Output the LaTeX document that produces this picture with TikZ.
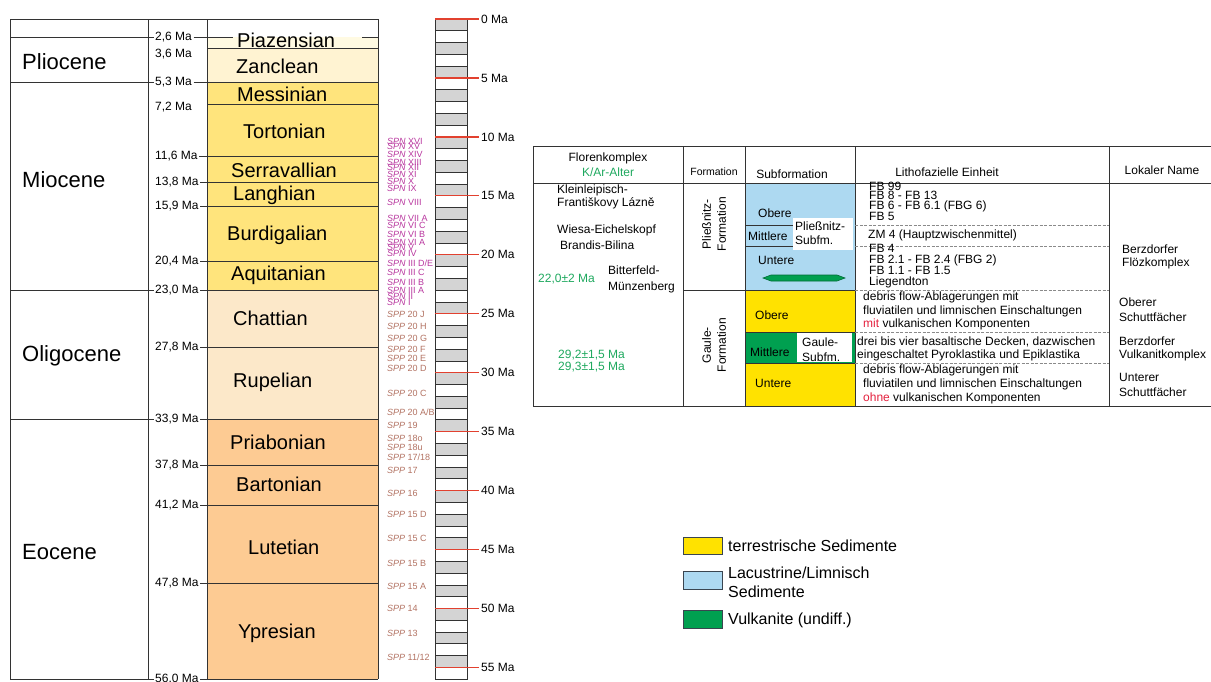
\documentclass[tikz,border=0pt]{standalone}
\usepackage{fontspec}
\setmainfont{Liberation Sans}
\usetikzlibrary{positioning, calc}

\definecolor{piazcol}{HTML}{FFFAE2}
\definecolor{zanclcol}{HTML}{FFF3D2}
\definecolor{miocol}{HTML}{FFE47C}
\definecolor{oligcol}{HTML}{FCE8C9}
\definecolor{eoccol}{HTML}{FDCB93}
\definecolor{spncol}{HTML}{B8369E}
\definecolor{sppcol}{HTML}{B27262}
\definecolor{tickred}{HTML}{E2412F}
\definecolor{cellgrey}{HTML}{D4D4D4}
\definecolor{linegrey}{HTML}{333333}
\definecolor{dashgrey}{HTML}{8A8A8A}
\definecolor{lakeblue}{HTML}{ADD9F1}
\definecolor{terryellow}{HTML}{FFE200}
\definecolor{volcgreen}{HTML}{00A050}
\definecolor{volcdark}{HTML}{006B35}
\definecolor{agegreen}{HTML}{1EA85E}
\definecolor{hlred}{HTML}{E4213E}
\definecolor{legframe}{HTML}{3A4550}

\begin{document}
\begin{tikzpicture}[x=1pt, y=-1pt,
	gridline/.style={draw=linegrey, line width=0.8pt},
	epochlbl/.style={anchor=west, inner sep=0pt, font=\fontsize{22}{26}\selectfont},
	stagelbl/.style={anchor=west, inner sep=0pt, font=\fontsize{20}{24}\selectfont},
	datelbl/.style={anchor=west, inner sep=1.5pt, font=\fontsize{12}{14}\selectfont},
	spnlbl/.style={anchor=west, inner sep=0pt, text=spncol, font=\fontsize{9}{10}\selectfont},
	spplbl/.style={spnlbl, text=sppcol},
	malbl/.style={anchor=west, inner sep=2pt, font=\fontsize{12}{14}\selectfont},
	hdr/.style={align=center, inner sep=0pt, font=\fontsize{12}{15}\selectfont},
	tcell/.style={anchor=west, align=left, inner sep=0pt, font=\fontsize{12}{13}\selectfont},
	rowsep/.style={draw=dashgrey, line width=0.6pt, dash pattern=on 3pt off 1.5pt},
	legbox/.style={draw=legframe, line width=1pt},
	legtxt/.style={anchor=west, align=left, inner sep=0pt, font=\fontsize{16}{19}\selectfont}]
	
	\useasboundingbox (0,0) rectangle (1211,681);
	
	% Stage fills
	\fill[piazcol] (207,37) rectangle (378,48);
	\fill[zanclcol] (207,48) rectangle (378,82);
	\fill[miocol] (207,82) rectangle (378,290);
	\fill[oligcol] (207,290) rectangle (378,419);
	\fill[eoccol] (207,419) rectangle (378,679);
	
	% Frame of the left chart
	\draw[gridline] (10,19) rectangle (148,679);
	\draw[gridline] (148,19) -- (378,19);
	\draw[gridline] (207,19) -- (207,679);
	\draw[gridline] (378,19) -- (378,679);
	
	% Epochs
	\node[epochlbl] (plio) at (22,62) {Pliocene};
	\node[epochlbl] (mio) at (22,180) {Miocene};
	\node[epochlbl] (oligo) at (22,356) {Oligocene};
	\node[epochlbl] (eo) at (22,552) {Eocene};
	
	% Epoch boundaries
	\node[datelbl] (d26) at (153.5,37) {2,6 Ma};
	\draw[gridline] (10,37) -- (d26.west);
	\draw[gridline] (d26.east) -- (233,37);
	\draw[gridline] (362,37) -- (378,37);
	\node[datelbl] (d53) at (153.5,82) {5,3 Ma};
	\draw[gridline] (10,82) -- (d53.west);
	\draw[gridline] (d53.east) -- (378,82);
	\node[datelbl] (d230) at (153.5,290) {23,0 Ma};
	\draw[gridline] (10,290) -- (d230.west);
	\draw[gridline] (d230.east) -- (378,290);
	\node[datelbl] (d339) at (153.5,419) {33,9 Ma};
	\draw[gridline] (10,419) -- (d339.west);
	\draw[gridline] (d339.east) -- (378,419);
	\node[datelbl] (d560) at (153.5,679) {56,0 Ma};
	\draw[gridline] (10,679) -- (d560.west);
	\draw[gridline] (d560.east) -- (378,679);
	
	% Stage boundaries
	\node[datelbl] (d36) at (153.5,54) {3,6 Ma};
	\draw[gridline] (207,48) -- (378,48);
	\node[datelbl] (d72) at (153.5,107) {7,2 Ma};
	\draw[gridline] (207,104) -- (378,104);
	\node[datelbl] (d116) at (153.5,156) {11,6 Ma};
	\draw[gridline] (d116.east) -- (378,156);
	\node[datelbl] (d138) at (153.5,182) {13,8 Ma};
	\draw[gridline] (d138.east) -- (378,182);
	\node[datelbl] (d159) at (153.5,206) {15,9 Ma};
	\draw[gridline] (d159.east) -- (378,206);
	\node[datelbl] (d204) at (153.5,261) {20,4 Ma};
	\draw[gridline] (d204.east) -- (378,261);
	\node[datelbl] (d278) at (153.5,347) {27,8 Ma};
	\draw[gridline] (d278.east) -- (378,347);
	\node[datelbl] (d378) at (153.5,465) {37,8 Ma};
	\draw[gridline] (d378.east) -- (378,465);
	\node[datelbl] (d412) at (153.5,505) {41,2 Ma};
	\draw[gridline] (d412.east) -- (378,505);
	\node[datelbl] (d478) at (153.5,583) {47,8 Ma};
	\draw[gridline] (d478.east) -- (378,583);
	
	% Stages
	\node[stagelbl] (piaz) at (237,40) {Piazensian};
	\node[stagelbl] (zancl) at (236,66) {Zanclean};
	\node[stagelbl] (messin) at (237,94) {Messinian};
	\node[stagelbl] (torton) at (243,131) {Tortonian};
	\node[stagelbl] (serra) at (231,170) {Serravallian};
	\node[stagelbl] (langh) at (233,195) {Langhian};
	\node[stagelbl] (burdi) at (227,235) {Burdigalian};
	\node[stagelbl] (aquit) at (231,275) {Aquitanian};
	\node[stagelbl] (chatt) at (233,318) {Chattian};
	\node[stagelbl] (rupel) at (233,382) {Rupelian};
	\node[stagelbl] (priab) at (230,442) {Priabonian};
	\node[stagelbl] (barton) at (236,484) {Bartonian};
	\node[stagelbl] (lutet) at (248,547) {Lutetian};
	\node[stagelbl] (ypres) at (238,633) {Ypresian};
	
	% Nannoplankton zones
	\foreach \y/\z [count=\k] in {141.7/XVI, 146.7/XV, 154.3/XIV, 162/XIII, 167.3/XII, 174/XI, 181/X, 188/IX,
		202.7/VIII, 218/{VII A}, 225/{VI C}, 234/{VI B}, 242/{VI A}, 247.5/V, 253/IV, 263/{III D/E},
		272/{III C}, 282/{III B}, 290/{III A}, 296/II, 302/I}
		\node[spnlbl] (spn\k) at (387,\y) {\textit{SPN} \z};
	\foreach \y/\z [count=\k] in {314/{20 J}, 326/{20 H}, 338/{20 G}, 349/{20 F}, 358/{20 E}, 368/{20 D},
		393/{20 C}, 412/{20 A/B}, 425/19, 438/18o, 447/18u, 457/{17/18}, 470/17, 493/16, 514/{15 D},
		538/{15 C}, 563/{15 B}, 586/{15 A}, 608/14, 633/13, 657/{11/12}}
		\node[spplbl] (spp\k) at (387,\y) {\textit{SPP} \z};
	
	% Time scale
	\foreach \i in {0,...,55}{
		\pgfmathtruncatemacro{\odd}{mod(\i,2)}
		\ifnum\odd=0 \def\cellfill{cellgrey}\else\def\cellfill{white}\fi
		\draw[gridline, fill=\cellfill] (435,{19+\i*11.79}) rectangle (467,{19+(\i+1)*11.79});
	}
	\foreach \m in {0,5,...,55}{
		\node[malbl] (ma\m) at (479,{19+\m*11.79}) {\m~Ma};
		\draw[tickred, line width=1.2pt] (435,{19+\m*11.79}) -- (ma\m.west);
	}
	
	% Table fills
	\fill[lakeblue] (745,183) rectangle (855,290);
	\fill[white] (793,218) rectangle (853,250);
	\fill[terryellow] (745,290) rectangle (855,332);
	\fill[volcgreen] (745,332) rectangle (855,363);
	\fill[white] (797,333) rectangle (852,362);
	\fill[terryellow] (745,363) rectangle (855,406);
	\filldraw[fill=volcgreen, draw=volcdark, line width=0.6pt] (763,278) -- (771,275) -- (837,275) -- (845,278) -- (837,281) -- (771,281) -- cycle;
	
	% Table grid
	\draw[gridline] (533,146) -- (1211,146);
	\draw[gridline] (533,183) -- (1211,183);
	\draw[gridline] (533,406) -- (1211,406);
	\draw[gridline] (533,146) -- (533,406);
	\draw[gridline] (683,146) -- (683,406);
	\draw[gridline] (745,146) -- (745,406);
	\draw[gridline] (855,146) -- (855,406);
	\draw[gridline] (1109,146) -- (1109,406);
	\draw[gridline] (683,290) -- (855,290);
	\draw[gridline] (745,225) -- (793,225);
	\draw[gridline] (745,246) -- (793,246);
	\draw[gridline, line width=0.6pt] (745,332) -- (855,332);
	\draw[gridline, line width=0.6pt] (745,363) -- (855,363);
	\foreach \y in {225,246,290,332,363}
		\draw[rowsep] (855,\y) -- (1109,\y);
	
	% Header
	\node[hdr] (florhd) at (608,165) {Florenkomplex\\\textcolor{agegreen}{K/Ar-Alter}};
	\node[hdr, font=\fontsize{10.5}{12}\selectfont] (formhd) at (714,172) {Formation};
	\node[hdr] (subhd) at (792,174) {Subformation};
	\node[hdr] (lithhd) at (947,172) {Lithofazielle Einheit};
	\node[hdr] (lokhd) at (1162,170) {Lokaler Name};
	
	% Florenkomplex
	\node[tcell] (flora) at (557,197) {Kleinleipisch-\\Františkovy Lázně};
	\node[tcell] (florb) at (557,230) {Wiesa-Eichelskopf};
	\node[tcell] (florc) at (560,245) {Brandis-Bilina};
	\node[tcell, text=agegreen] (kar1) at (538,279) {22,0±2 Ma};
	\node[tcell, font=\fontsize{12}{16}\selectfont] (flord) at (608,279) {Bitterfeld-\\Münzenberg};
	\node[tcell, text=agegreen, font=\fontsize{12}{12}\selectfont] (kar2) at (558,361) {29,2±1,5 Ma\\29,3±1,5 Ma};
	
	% Formations
	\node[hdr, rotate=90] (pliessf) at (714,224) {Pließnitz-\\Formation};
	\node[hdr, rotate=90] (gaulef) at (714,345) {Gaule-\\Formation};
	
	% Subformations
	\node[tcell] (pobere) at (758,213) {Obere};
	\node[tcell] (pmittl) at (748,236) {Mittlere};
	\node[tcell, font=\fontsize{12}{14}\selectfont] (psub) at (795,233) {Pließnitz-\\Subfm.};
	\node[tcell] (puntere) at (758,260) {Untere};
	\node[tcell] (gobere) at (755,315) {Obere};
	\node[tcell] (gmittl) at (750,352) {Mittlere};
	\node[tcell, font=\fontsize{12}{15}\selectfont] (gsub) at (802,350) {Gaule-\\Subfm.};
	\node[tcell] (guntere) at (755,383) {Untere};
	
	% Lithofacies
	\node[tcell, font=\fontsize{12}{9.3}\selectfont] (fbup) at (869,201.5) {FB 99\\FB 8 - FB 13\\FB 6 - FB 6.1 (FBG 6)\\FB 5};
	\node[tcell] (zm) at (868,235.5) {ZM 4 (Hauptzwischenmittel)};
	\node[tcell, font=\fontsize{12}{11}\selectfont] (fblow) at (869,266) {FB 4\\FB 2.1 - FB 2.4 (FBG 2)\\FB 1.1 - FB 1.5\\Liegendton};
	\node[tcell, font=\fontsize{12}{13.5}\selectfont] (debup) at (863,311) {debris flow-Ablagerungen mit\\fluviatilen und limnischen Einschaltungen\\\textcolor{hlred}{mit} vulkanischen Komponenten};
	\node[tcell] (drei) at (857,348.5) {drei bis vier basaltische Decken, dazwischen\\eingeschaltet Pyroklastika und Epiklastika};
	\node[tcell, font=\fontsize{12}{14}\selectfont] (deblow) at (863,384) {debris flow-Ablagerungen mit\\fluviatilen und limnischen Einschaltungen\\\textcolor{hlred}{ohne} vulkanischen Komponenten};
	
	% Local names
	\node[tcell] (lok1) at (1122,256.5) {Berzdorfer\\Flözkomplex};
	\node[tcell, font=\fontsize{12}{15}\selectfont] (lok2) at (1119,309.5) {Oberer\\Schuttfächer};
	\node[tcell] (lok3) at (1119,348.5) {Berzdorfer\\Vulkanitkomplex};
	\node[tcell, font=\fontsize{12}{15}\selectfont] (lok4) at (1119,384.5) {Unterer\\Schuttfächer};
	
	% Legend
	\draw[legbox, fill=terryellow] (683,537) rectangle (722,554);
	\node[legtxt] (legterr) at (728,546) {terrestrische Sedimente};
	\draw[legbox, fill=lakeblue] (683,571) rectangle (722,589);
	\node[legtxt] (leglake) at (728,582) {Lacustrine/Limnisch\\Sedimente};
	\draw[legbox, fill=volcgreen] (683,610) rectangle (722,628);
	\node[legtxt] (legvolc) at (728,620) {Vulkanite (undiff.)};
	
\end{tikzpicture}
\end{document}
